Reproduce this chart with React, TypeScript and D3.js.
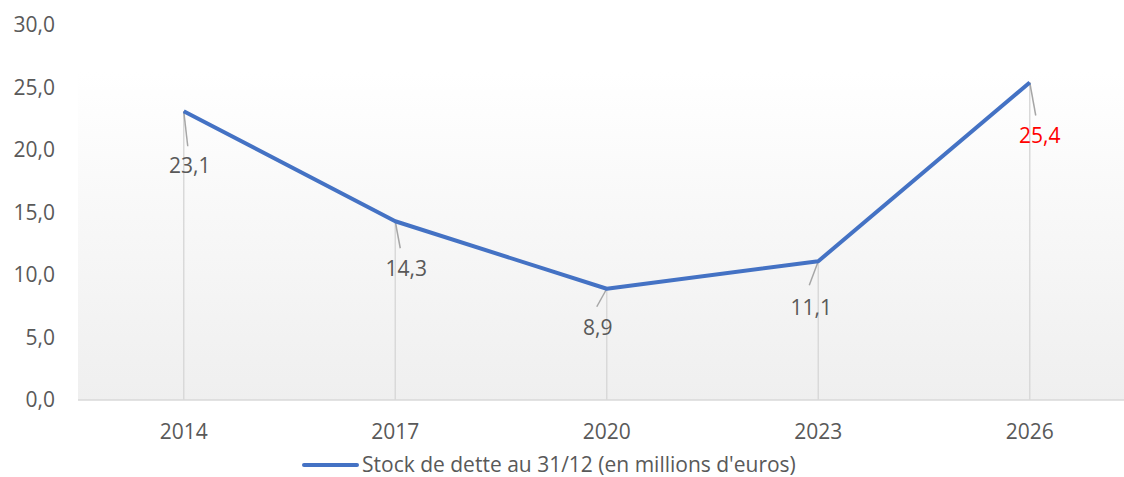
import React from "react";
import * as d3 from "d3";

const years = ["2014", "2017", "2020", "2023", "2026"];
const stock = [23.1, 14.3, 8.9, 11.1, 25.4];
const yTicks = [0, 5, 10, 15, 20, 25, 30];
const labelColors = ["#595959", "#595959", "#595959", "#595959", "#ff0000"];
// label offsets relative to point (dx, dy) for label center and leader end
const labelOffsets = [
  { lx: 6, ly: 54, ex: 4, ey: 35 },
  { lx: 11, ly: 47, ex: 5, ey: 27 },
  { lx: -9, ly: 39, ex: -10, ey: 18 },
  { lx: -7, ly: 46, ex: -9, ey: 24 },
  { lx: 10, ly: 53, ex: 6, ey: 33 },
];
const seriesName = "Stock de dette au 31/12 (en millions d'euros)";

export default function App() {
  const W = 1124, H = 477;
  const left = 78, bandW = 211.5;
  const x = d3.scaleBand<string>().domain(years).range([left, left + bandW * years.length]);
  const y = d3.scaleLinear().domain([0, 30]).range([400, 25]);
  const cx = (d: string) => (x(d) as number) + x.bandwidth() / 2;
  const line = d3.line<number>().x((_, i) => cx(years[i])).y((v) => y(v));
  const fmt = (v: number) => v.toFixed(1).replace(".", ",");
  const font = "'Open Sans', sans-serif";
  const fs = 21;
  return (
    <svg width={W} height={H} style={{ position: "absolute", left: 0, top: 0 }} fontFamily={font}>
      <defs>
        <linearGradient id="bg" x1="0" y1="0" x2="0" y2="1">
          <stop offset="0" stopColor="#ffffff" />
          <stop offset="1" stopColor="#efefef" />
        </linearGradient>
      </defs>
      <rect x={0} y={0} width={W} height={H} fill="#fff" />
      <rect x={left} y={72} width={W - left} height={400 - 72} fill="url(#bg)" />
      {yTicks.map((t) => (
        <text key={t} x={55} y={y(t)} dy="0.35em" textAnchor="end" fontSize={fs} fill="#595959">
          {fmt(t)}
        </text>
      ))}
      {stock.map((v, i) => (
        <line key={i} x1={cx(years[i])} x2={cx(years[i])} y1={y(v)} y2={y(0)} stroke="#d9d9d9" strokeWidth={1.5} />
      ))}
      <line x1={left} x2={W} y1={y(0)} y2={y(0)} stroke="#d9d9d9" strokeWidth={1.5} />
      {years.map((yr) => (
        <text key={yr} x={cx(yr)} y={432} dy="0.35em" textAnchor="middle" fontSize={fs} fill="#595959">
          {yr}
        </text>
      ))}
      {stock.map((v, i) => {
        const px = cx(years[i]), py = y(v);
        const o = labelOffsets[i];
        return (
          <g key={i}>
            <line x1={px} y1={py} x2={px + o.ex} y2={py + o.ey} stroke="#a6a6a6" strokeWidth={1.5} />
            <text x={px + o.lx} y={py + o.ly} dy="0.35em" textAnchor="middle" fontSize={fs} fill={labelColors[i]}>
              {fmt(v)}
            </text>
          </g>
        );
      })}
      <path d={line(stock) as string} fill="none" stroke="#4472c4" strokeWidth={4} strokeLinejoin="round" />
      <line x1={304} x2={357} y1={465} y2={465} stroke="#4472c4" strokeWidth={4} strokeLinecap="round" />
      <text x={362} y={465} dy="0.35em" fontSize={fs} fill="#595959">
        {seriesName}
      </text>
    </svg>
  );
}
